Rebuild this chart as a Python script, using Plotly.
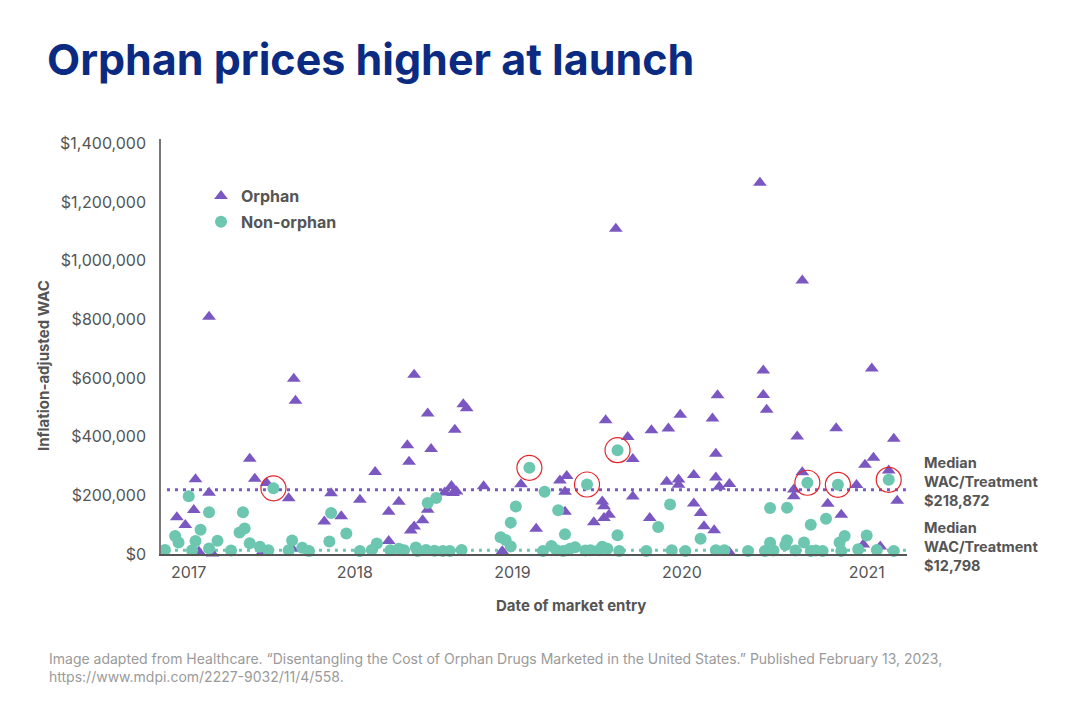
import plotly.graph_objects as go

# ---------------- data (decimal year of market entry, inflation-adjusted WAC in $) ----------------
orphan_date = [
    2017.12, 2017.62, 2017.63, 2018.33, 2018.62, 2018.64, 2018.41, 2018.57, 2018.29, 2018.43,
    2018.30, 2017.36, 2017.04, 2017.39, 2017.46, 2017.12, 2017.59, 2017.84, 2018.01, 2018.10,
    2016.93, 2017.03, 2016.98, 2017.80, 2017.90, 2018.18, 2018.24, 2018.41, 2018.38, 2018.33,
    2018.31, 2018.51, 2018.55, 2018.56, 2018.58, 2018.18, 2017.06, 2017.14, 2017.43, 2017.61,
    2017.71, 2018.26, 2018.74, 2018.96, 2019.05, 2018.85, 2019.52, 2020.37, 2019.46, 2019.59,
    2019.62, 2019.73, 2019.83, 2019.90, 2020.09, 2020.12, 2020.11, 2020.39, 2020.39, 2020.41,
    2019.19, 2019.23, 2019.22, 2019.44, 2019.45, 2019.48, 2019.45, 2019.39, 2019.22, 2019.62,
    2019.82, 2019.89, 2019.89, 2019.98, 2020.11, 2020.13, 2020.19, 2019.72, 2019.98, 2020.02,
    2020.04, 2020.10, 2020.12, 2020.19, 2020.62, 2021.03, 2020.59, 2020.82, 2021.16, 2021.04,
    2020.99, 2020.62, 2021.13, 2020.57, 2020.57, 2020.94, 2021.24, 2021.18, 2020.77, 2020.85,
    2020.98, 2021.08,
]
orphan_wac = [
    809000, 598000, 523000, 611000, 511000, 497000, 479000, 424000, 371000, 358000,
    315000, 325000, 255000, 257000, 242000, 209000, 190000, 207000, 185000, 280000,
    125000, 150000, 99000, 111000, 129000, 144000, 178000, 151000, 115000, 94000,
    80000, 210000, 232000, 208000, 213000, 44000, 8000, 2000, 4000, 19000,
    4000, 6000, 231000, 238000, 86000, 9000, 1109000, 1266000, 456000, 399000,
    324000, 422000, 428000, 475000, 462000, 541000, 342000, 626000, 542000, 492000,
    251000, 266000, 212000, 179000, 163000, 134000, 123000, 108000, 144000, 196000,
    246000, 254000, 236000, 269000, 261000, 229000, 239000, 123000, 172000, 140000,
    95000, 81000, 8000, 6000, 933000, 633000, 401000, 429000, 393000, 328000,
    304000, 279000, 285000, 220000, 197000, 235000, 224000, 182000, 171000, 134000,
    32000, 26000,
]

nonorphan_date = [
    2017.00, 2017.12, 2017.32, 2017.07, 2017.30, 2017.33, 2016.92, 2016.94, 2017.04, 2017.17,
    2017.36, 2017.61, 2017.83, 2017.84, 2017.50, 2017.93, 2016.86, 2017.02, 2017.12, 2017.25,
    2017.42, 2017.47, 2017.59, 2017.67, 2017.71, 2018.01, 2018.08, 2018.11, 2018.19, 2018.24,
    2018.27, 2018.34, 2018.35, 2018.40, 2018.45, 2018.50, 2018.54, 2018.61, 2018.41, 2018.46,
    2019.01, 2018.93, 2018.90, 2018.84, 2018.87, 2018.90, 2019.10, 2019.18, 2019.22, 2019.09,
    2019.14, 2019.17, 2019.21, 2019.25, 2019.28, 2019.34, 2019.37, 2019.35, 2019.42, 2019.44,
    2019.47, 2019.53, 2019.53, 2019.54, 2019.70, 2019.77, 2019.84, 2019.85, 2019.93, 2020.02,
    2020.11, 2020.16, 2020.30, 2020.40, 2020.43, 2020.43, 2020.53, 2020.65, 2020.83, 2021.13,
    2020.67, 2020.76, 2021.00, 2020.87, 2020.84, 2020.53, 2020.52, 2020.63, 2020.45, 2020.58,
    2020.67, 2020.70, 2020.74, 2020.85, 2020.95, 2021.06, 2021.16,
]
nonorphan_wac = [
    197000, 142000, 142000, 83000, 73000, 87000, 61000, 39000, 44000, 45000,
    37000, 46000, 43000, 140000, 224000, 70000, 14000, 13000, 19000, 12000,
    25000, 13000, 13000, 21000, 10000, 10000, 14000, 36000, 13000, 18000,
    13000, 22000, 10000, 14000, 11000, 10000, 10000, 14000, 174000, 191000,
    294000, 162000, 107000, 57000, 48000, 26000, 212000, 149000, 67000, 10000,
    27000, 13000, 10000, 18000, 23000, 12000, 13000, 237000, 13000, 25000,
    18000, 354000, 64000, 10000, 10000, 92000, 169000, 13000, 10000, 52000,
    13000, 13000, 10000, 10000, 157000, 38000, 158000, 243000, 236000, 253000,
    100000, 120000, 63000, 61000, 39000, 47000, 31000, 39000, 12000, 12000,
    10000, 12000, 10000, 10000, 16000, 14000, 10000,
]
# non-orphan launches highlighted with a red ring
highlight_idx = [14, 40, 57, 61, 77, 78, 79]

median_orphan = 218872
median_nonorphan = 12798

year_ticks = [2017, 2017.98, 2018.91, 2019.91, 2021]
year_labels = ["2017", "2018", "2019", "2020", "2021"]
wac_ticks = [0, 200000, 400000, 600000, 800000, 1000000, 1200000, 1400000]
wac_labels = ["$0", "$200,000", "$400,000", "$600,000", "$800,000",
              "$1,000,000", "$1,200,000", "$1,400,000"]

# ---------------- style ----------------
PURPLE = "#7b57c2"
TEAL = "#6cc6b0"
RED = "#e2262c"
GRAY = "#555555"
NAVY = "#0b2b82"
FONT = "Inter"

fig = go.Figure()

fig.add_trace(go.Scatter(
    x=orphan_date, y=orphan_wac, mode="markers", name="Orphan", legendgroup="o",
    marker=dict(symbol="triangle-up", size=12, color=PURPLE, line=dict(width=0)),
    cliponaxis=False,
))
fig.add_trace(go.Scatter(
    x=nonorphan_date, y=nonorphan_wac, mode="markers", name="Non-orphan", legendgroup="n",
    marker=dict(symbol="circle", size=12, color=TEAL, line=dict(width=0)),
    cliponaxis=False,
))
fig.add_trace(go.Scatter(
    x=[nonorphan_date[i] for i in highlight_idx],
    y=[nonorphan_wac[i] for i in highlight_idx],
    mode="markers", showlegend=False, hoverinfo="skip",
    marker=dict(symbol="circle-open", size=25, color=RED, line=dict(width=1.2, color=RED)),
    cliponaxis=False,
))

# median lines
fig.add_shape(type="line", xref="paper", yref="y", x0=0.008, x1=1.0,
              y0=median_orphan, y1=median_orphan, layer="below",
              line=dict(color=PURPLE, width=3, dash="3px,5px"))
fig.add_shape(type="line", xref="paper", yref="y", x0=0.008, x1=1.0,
              y0=median_nonorphan, y1=median_nonorphan, layer="below",
              line=dict(color=TEAL, width=3, dash="3px,5px"))

# plot area in pixels: x 161..907, y 139..554
L, R, T, B = 161, 173, 139, 166
PW, PH = 1080 - L - R, 720 - T - B


def px(xp):
    return (xp - L) / PW


def py(yp):
    return (720 - B - yp) / PH


annotations = [
    dict(text="Inflation-adjusted WAC", x=px(43), y=py(366), textangle=-90,
         font=dict(size=15, color=GRAY, family=FONT, weight="bold")),
    dict(text="Date of market entry", x=px(571), y=py(605),
         font=dict(size=15, color=GRAY, family=FONT, weight="bold")),
    dict(text=f"Median<br>WAC/Treatment<br>${median_orphan:,}", x=px(922), y=py(481),
         xanchor="left", align="left",
         font=dict(size=14.5, color=GRAY, family=FONT, weight="bold")),
    dict(text=f"Median<br>WAC/Treatment<br>${median_nonorphan:,}", x=px(922), y=py(546),
         xanchor="left", align="left",
         font=dict(size=14.5, color=GRAY, family=FONT, weight="bold")),
    dict(text="Image adapted from Healthcare. “Disentangling the Cost of Orphan Drugs Marketed in the United States.” Published February 13, 2023,<br>https://www.mdpi.com/2227-9032/11/4/558.",
         x=px(47), y=py(667), xanchor="left", align="left",
         font=dict(size=14, color="#9a9a9a", family=FONT)),
]
for a in annotations:
    a.update(xref="paper", yref="paper", showarrow=False)
    a.setdefault("xanchor", "center")
    a.setdefault("yanchor", "middle")

fig.update_layout(
    width=1080, height=720,
    margin=dict(l=L, r=R, t=T, b=B, pad=0),
    paper_bgcolor="white", plot_bgcolor="white",
    font=dict(family=FONT, color=GRAY),
    title=dict(text="<b>Orphan prices higher at launch</b>", x=47 / 1080, xanchor="left",
               xref="container", y=1 - 60 / 720, yref="container", yanchor="middle",
               font=dict(size=43, color=NAVY, family=FONT)),
    showlegend=True,
    legend=dict(x=px(201), y=py(179), xanchor="left", yanchor="top",
                bgcolor="rgba(0,0,0,0)", borderwidth=0, traceorder="grouped",
                font=dict(size=16, color=GRAY, family=FONT, weight="bold"),
                itemsizing="constant", itemwidth=30, tracegroupgap=2),
    annotations=annotations,
    xaxis=dict(range=[2016.8366, 2021.2378], tickvals=year_ticks, ticktext=year_labels,
               showgrid=False, zeroline=False, showline=True, linecolor="#555555",
               linewidth=2, ticks="", ticklabelstandoff=3,
               tickfont=dict(size=16, color=GRAY, family=FONT)),
    yaxis=dict(range=[0, 1415300], tickvals=wac_ticks, ticktext=wac_labels,
               showgrid=False, zeroline=False, showline=True, linecolor="#777777",
               linewidth=1.5, ticks="", ticklabelstandoff=10,
               tickfont=dict(size=16, color=GRAY, family=FONT)),
)

fig.write_html("out.html", config={"displayModeBar": False},
               post_script="document.body.style.margin='0';document.body.style.padding='0';")
